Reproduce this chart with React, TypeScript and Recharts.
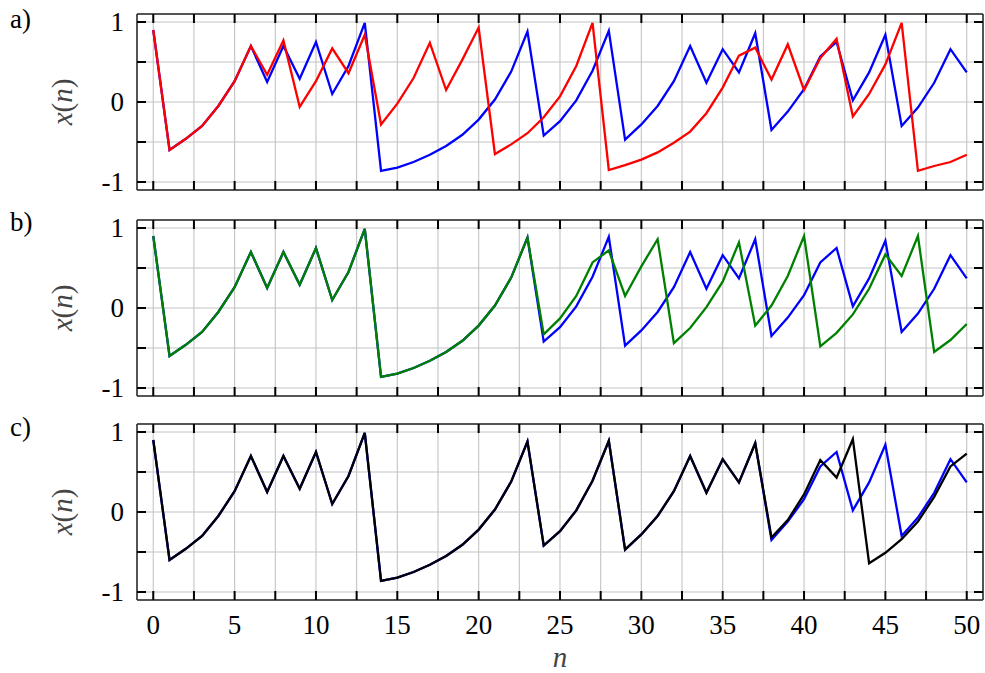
import { LineChart, Line, XAxis, YAxis, CartesianGrid } from "recharts";

// x(n) trajectories, n = 0 … 50
const blueSeries = [
  0.9, -0.6, -0.46, -0.3, -0.05, 0.26, 0.7, 0.25, 0.7, 0.29, 0.75, 0.1, 0.45,
  0.99, -0.86, -0.82, -0.75, -0.66, -0.55, -0.41, -0.22, 0.03, 0.38, 0.88,
  -0.42, -0.24, 0.02, 0.39, 0.89, -0.47, -0.28, -0.05, 0.26, 0.7, 0.24, 0.66,
  0.37, 0.86, -0.35, -0.12, 0.16, 0.57, 0.75, 0.02, 0.37, 0.84, -0.3, -0.07,
  0.24, 0.66, 0.37,
];

const redSeries = [
  0.9, -0.6, -0.46, -0.3, -0.05, 0.26, 0.7, 0.34, 0.77, -0.06, 0.26, 0.67, 0.36,
  0.84, -0.28, -0.02, 0.3, 0.74, 0.15, 0.53, 0.93, -0.65, -0.53, -0.39, -0.19,
  0.07, 0.45, 0.99, -0.85, -0.79, -0.72, -0.63, -0.51, -0.37, -0.14, 0.18,
  0.58, 0.68, 0.28, 0.72, 0.15, 0.55, 0.79, -0.18, 0.1, 0.47, 0.99, -0.86,
  -0.8, -0.75, -0.66,
];

const greenSeries = [
  0.9, -0.6, -0.46, -0.3, -0.05, 0.26, 0.7, 0.25, 0.7, 0.29, 0.75, 0.1, 0.45,
  0.99, -0.86, -0.82, -0.75, -0.66, -0.55, -0.41, -0.22, 0.03, 0.38, 0.88,
  -0.33, -0.13, 0.15, 0.57, 0.72, 0.15, 0.52, 0.86, -0.44, -0.25, 0.01, 0.33,
  0.82, -0.22, 0.03, 0.4, 0.9, -0.48, -0.31, -0.08, 0.24, 0.67, 0.4, 0.9,
  -0.55, -0.4, -0.2,
];

const blackSeries = [
  0.9, -0.6, -0.46, -0.3, -0.05, 0.26, 0.7, 0.25, 0.7, 0.29, 0.75, 0.1, 0.45,
  0.99, -0.86, -0.82, -0.75, -0.66, -0.55, -0.41, -0.22, 0.03, 0.38, 0.88,
  -0.42, -0.24, 0.02, 0.39, 0.89, -0.47, -0.28, -0.05, 0.26, 0.7, 0.24, 0.66,
  0.37, 0.86, -0.32, -0.1, 0.22, 0.65, 0.43, 0.91, -0.64, -0.51, -0.34, -0.12,
  0.19, 0.57, 0.73,
];

const xTicks = [
  0, 2.5, 5, 7.5, 10, 12.5, 15, 17.5, 20, 22.5, 25, 27.5, 30, 32.5, 35, 37.5,
  40, 42.5, 45, 47.5, 50,
];
const yTicks = [-1, -0.5, 0, 0.5, 1];

const FONT = "Liberation Serif, DejaVu Serif, serif";
const FONT_SIZE = 27;
const FRAME = { stroke: "#262626", strokeWidth: 1.5 };
const TICK_LEN = 9;

const WIDTH = 985;
const TOP_GAP = 14;
const PLOT_H = 176;
const BOTTOM_GAP = 90;
const HEIGHT = TOP_GAP + PLOT_H + BOTTOM_GAP;
const LEFT_W = 137;
const RIGHT_W = 2;

const textStyle = { fontFamily: FONT, fontSize: FONT_SIZE };

// inward ticks; labels only on the multiples of 5
const bottomTick = (withLabel: boolean) => (p: any) => {
  const { x, y, payload } = p;
  const v = payload.value;
  return (
    <g>
      <line x1={x} x2={x} y1={y} y2={y - TICK_LEN} stroke="#000" strokeWidth={2} />
      {withLabel && v % 5 === 0 ? (
        <text x={x} y={y + 34} textAnchor="middle" style={textStyle} fill="#000">
          {v}
        </text>
      ) : null}
    </g>
  );
};

const topTick = (p: any) => (
  <line x1={p.x} x2={p.x} y1={p.y} y2={p.y + TICK_LEN} stroke="#000" strokeWidth={2} />
);

const leftTick = (p: any) => {
  const { x, y, payload } = p;
  const v = payload.value;
  return (
    <g>
      <line x1={x} x2={x + TICK_LEN} y1={y} y2={y} stroke="#000" strokeWidth={2} />
      {Number.isInteger(v) ? (
        <text x={x - 13} y={y + 9} textAnchor="end" style={textStyle} fill="#000">
          {String(v)}
        </text>
      ) : null}
    </g>
  );
};

const rightTick = (p: any) => (
  <line x1={p.x} x2={p.x - TICK_LEN} y1={p.y} y2={p.y} stroke="#000" strokeWidth={2} />
);

type PanelProps = {
  top: number;
  letter: string;
  letterY: number;
  other: number[];
  otherColor: string;
  showX: boolean;
};

function Panel({ top, letter, letterY, other, otherColor, showX }: PanelProps) {
  const data = blueSeries.map((v, i) => ({ n: i, base: v, other: other[i] }));

  const yTitle = (props: any) => {
    const vb = props.viewBox || { y: TOP_GAP, height: PLOT_H };
    const cx = 62;
    const cy = vb.y + vb.height / 2;
    return (
      <g>
        <text x={10} y={letterY} style={textStyle} fill="#000">
          {letter}
        </text>
        <text
          x={cx}
          y={cy}
          transform={`rotate(-90 ${cx} ${cy})`}
          textAnchor="middle"
          dominantBaseline="central"
          style={{ fontFamily: FONT, fontSize: FONT_SIZE + 2 }}
          fill="#444"
        >
          <tspan fontStyle="italic">x</tspan>(<tspan fontStyle="italic">n</tspan>)
        </text>
      </g>
    );
  };

  const xTitle = (props: any) => {
    const vb = props.viewBox || { x: LEFT_W, y: TOP_GAP + PLOT_H, width: WIDTH - LEFT_W - RIGHT_W };
    return (
      <text
        x={vb.x + vb.width / 2}
        y={vb.y + 67}
        textAnchor="middle"
        style={{ fontFamily: FONT, fontSize: FONT_SIZE + 2, fontStyle: "italic" }}
        fill="#444"
      >
        n
      </text>
    );
  };

  return (
    <div style={{ position: "absolute", left: 0, top, width: WIDTH, height: HEIGHT }}>
      <LineChart width={WIDTH} height={HEIGHT} data={data} margin={{ top: 0, right: 0, bottom: 0, left: 0 }}>
        <CartesianGrid xAxisId="b" yAxisId="l" stroke="#c4c4c4" strokeWidth={1.1} />
        <XAxis
          xAxisId="b"
          dataKey="n"
          type="number"
          domain={[-1, 51]}
          allowDataOverflow
          ticks={xTicks}
          interval={0}
          height={BOTTOM_GAP}
          tickSize={0}
          tickMargin={0}
          tickLine={false}
          axisLine={FRAME}
          tick={bottomTick(showX)}
          label={showX ? xTitle : undefined}
        />
        <XAxis
          xAxisId="t"
          dataKey="n"
          type="number"
          orientation="top"
          domain={[-1, 51]}
          allowDataOverflow
          ticks={xTicks}
          interval={0}
          height={TOP_GAP}
          tickSize={0}
          tickMargin={0}
          tickLine={false}
          axisLine={FRAME}
          tick={topTick}
        />
        <YAxis
          yAxisId="l"
          type="number"
          domain={[-1.1, 1.1]}
          allowDataOverflow
          ticks={yTicks}
          interval={0}
          width={LEFT_W}
          tickSize={0}
          tickMargin={0}
          tickLine={false}
          axisLine={FRAME}
          tick={leftTick}
          label={yTitle}
        />
        <YAxis
          yAxisId="r"
          type="number"
          orientation="right"
          domain={[-1.1, 1.1]}
          allowDataOverflow
          ticks={yTicks}
          interval={0}
          width={RIGHT_W}
          tickSize={0}
          tickMargin={0}
          tickLine={false}
          axisLine={FRAME}
          tick={rightTick}
        />
        <Line
          xAxisId="b"
          yAxisId="l"
          type="linear"
          dataKey="base"
          stroke="#0000ff"
          strokeWidth={2.3}
          dot={false}
          isAnimationActive={false}
        />
        <Line
          xAxisId="b"
          yAxisId="l"
          type="linear"
          dataKey="other"
          stroke={otherColor}
          strokeWidth={2.3}
          dot={false}
          isAnimationActive={false}
        />
      </LineChart>
    </div>
  );
}

export default function App() {
  return (
    <div style={{ position: "absolute", left: 0, top: 0, width: WIDTH, height: 673, background: "#fff" }}>
      <Panel top={0.3} letter="a)" letterY={28} other={redSeries} otherColor="#ff0000" showX={false} />
      <Panel top={206.3} letter="b)" letterY={25} other={greenSeries} otherColor="#008000" showX={false} />
      <Panel top={410.3} letter="c)" letterY={26} other={blackSeries} otherColor="#000000" showX />
    </div>
  );
}
